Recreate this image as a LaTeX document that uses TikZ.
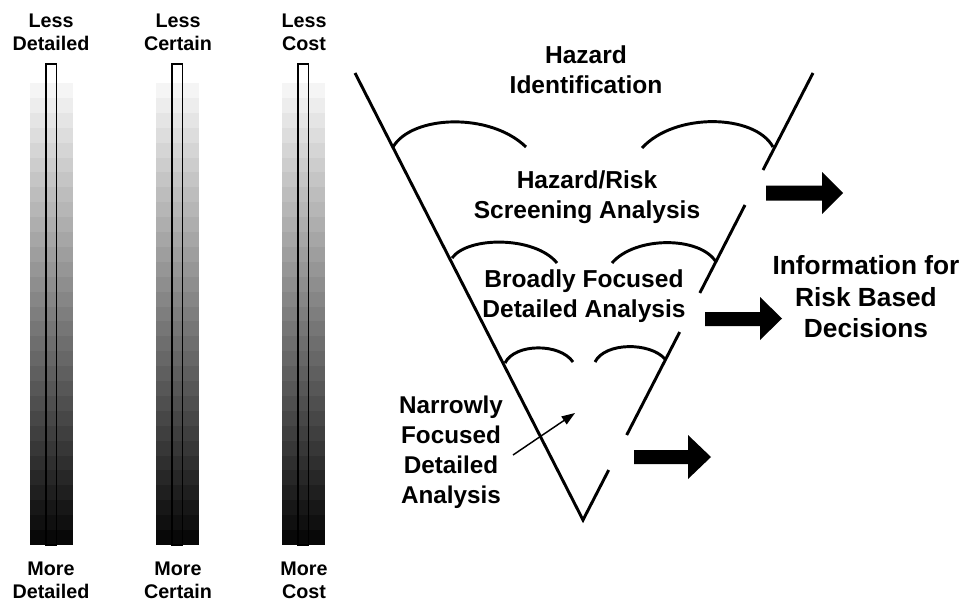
\documentclass[tikz,border=0pt]{standalone}
\usepackage{fontspec}
\setmainfont{Liberation Sans}
\usetikzlibrary{arrows.meta}
\tikzset{
  funnel/.style={line width=2.2pt, line join=miter},
  cup/.style={line width=2.2pt, line cap=butt},
  bigarrow/.style={fill=black, draw=none},
  barlabel/.style={font=\bfseries\fontsize{14.8}{17.5}\selectfont, align=center, inner sep=0pt},
  stagelabel/.style={font=\bfseries\fontsize{18.4}{22.5}\selectfont, align=center, inner sep=0pt},
  infolabel/.style={font=\bfseries\fontsize{19.7}{23.6}\selectfont, align=center, inner sep=0pt},
  innerbar/.style={draw=black, line width=1.2pt},
  pointer/.style={line width=1.1pt, -{Triangle[length=10pt,width=7pt]}}
}
\begin{document}
\begin{tikzpicture}[x=0.75pt,y=-0.75pt]
\useasboundingbox (0,0) rectangle (970,604);
% ---- gradient bars
\foreach \cx/\nm in {51/a,177/b,303/c}{
  \foreach \i in {0,...,30}{
    \pgfmathsetmacro{\pct}{4+\i*3.1}
    \pgfmathsetmacro{\ytop}{83+\i*14.9}
    \pgfmathsetmacro{\ybot}{83+(\i+1)*14.9+0.5}
    \fill[black!\pct] (\cx-21.5,\ytop) rectangle (\cx+21.5,\ybot);
  }
  \draw[innerbar] (\cx-5.3,64) rectangle (\cx+5.3,545);
}
% ---- bar labels
\node[barlabel] (lessdet) at (51,32) {Less\\Detailed};
\node[barlabel] (lesscer) at (178,32) {Less\\Certain};
\node[barlabel] (lesscost) at (304,32) {Less\\Cost};
\node[barlabel] (moredet) at (51,580) {More\\Detailed};
\node[barlabel] (morecer) at (178,580) {More\\Certain};
\node[barlabel] (morecost) at (304,580) {More\\Cost};
% ---- funnel
\coordinate (lt) at (355,73);
\coordinate (tip) at (583,520);
\coordinate (rt) at (813,73);
\coordinate (r1) at (763,170);
\coordinate (r2a) at (745,205);
\coordinate (r2b) at (699.8,293);
\coordinate (r3a) at (679.7,332);
\coordinate (r3b) at (626.7,435);
\coordinate (r4) at (608.7,470);
\draw[funnel] (rt) -- (r1);
\draw[funnel] (r2a) -- (r2b);
\draw[funnel] (r3a) -- (r3b);
\draw[funnel] (r4) -- (tip) -- (lt);
% ---- cups
\draw[cup] (393,147) .. controls (412,115) and (490,112) .. (526,147);
\draw[cup] (642,148) .. controls (675,112) and (755,114) .. (773,147);
\draw[cup] (452,258) .. controls (468,236) and (535,236) .. (557,263);
\draw[cup] (612,263) .. controls (635,236) and (700,236) .. (716,262);
\draw[cup] (505,363) .. controls (515,343) and (560,343) .. (573,362);
\draw[cup] (595,362) .. controls (605,342) and (650,342) .. (665,359);
% ---- block arrows
\fill[bigarrow] (766,185.5) -- (822,185.5) -- (822,172) -- (843,193) -- (822,214) -- (822,200.5) -- (766,200.5) -- cycle;
\fill[bigarrow] (705,312) -- (760,312) -- (760,297) -- (782,318.5) -- (760,340) -- (760,326) -- (705,326) -- cycle;
\fill[bigarrow] (634,450) -- (688,450) -- (688,435) -- (711,457) -- (688,479) -- (688,464) -- (634,464) -- cycle;
% ---- texts
\node[stagelabel] (hazid) at (586,70) {Hazard\\Identification};
\node[stagelabel] (screen) at (587,197.5) {Hazard/Risk\\Screening Analysis};
\node[stagelabel] (broad) at (584,296) {Broadly Focused\\Detailed Analysis};
\node[stagelabel, font=\bfseries\fontsize{18.2}{22.5}\selectfont] (narrow) at (451,452.5) {Narrowly\\Focused\\Detailed\\Analysis};
\node[infolabel] (info) at (866,297) {Information for\\Risk Based\\Decisions};
% ---- pointer
\coordinate (ptail) at (513,455);
\coordinate (phead) at (575,413);
\draw[pointer] (ptail) -- (phead);
\end{tikzpicture}
\end{document}
